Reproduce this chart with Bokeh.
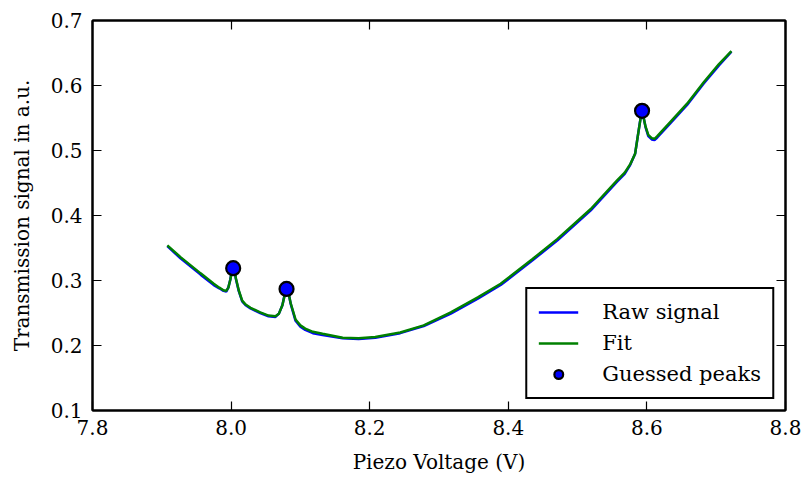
from bokeh.plotting import figure
from bokeh.models import LinearAxis, FixedTicker, Legend, LegendItem, Range1d
from bokeh.embed import file_html
from bokeh.resources import INLINE

# ---- data ----
voltage = [7.908, 7.927, 7.956, 7.975, 7.983, 7.989, 7.993, 7.996, 7.999, 8.001,
           8.003, 8.005, 8.007, 8.011, 8.016, 8.021, 8.028, 8.042, 8.054, 8.064,
           8.069, 8.074, 8.077, 8.079, 8.081, 8.083, 8.086, 8.093, 8.100, 8.107,
           8.118, 8.132, 8.161, 8.184, 8.208, 8.244, 8.278, 8.317, 8.356, 8.389,
           8.435, 8.471, 8.519, 8.557, 8.568, 8.576, 8.583, 8.588, 8.591, 8.593,
           8.595, 8.598, 8.602, 8.607, 8.611, 8.615, 8.634, 8.658, 8.682, 8.704,
           8.722]
raw_signal = [0.353, 0.334, 0.309, 0.293, 0.288, 0.284, 0.283, 0.289, 0.302, 0.315,
              0.320, 0.314, 0.302, 0.284, 0.268, 0.262, 0.257, 0.250, 0.245, 0.244,
              0.249, 0.262, 0.277, 0.286, 0.288, 0.280, 0.264, 0.238, 0.229, 0.224,
              0.219, 0.216, 0.211, 0.210, 0.212, 0.219, 0.230, 0.249, 0.272, 0.293,
              0.331, 0.362, 0.408, 0.452, 0.464, 0.478, 0.495, 0.530, 0.551, 0.561,
              0.552, 0.536, 0.522, 0.517, 0.516, 0.520, 0.542, 0.570, 0.603, 0.631,
              0.652]
fit_signal = [0.354, 0.336, 0.311, 0.295, 0.289, 0.285, 0.284, 0.289, 0.302, 0.314,
              0.319, 0.314, 0.303, 0.285, 0.269, 0.263, 0.258, 0.251, 0.246, 0.245,
              0.249, 0.262, 0.276, 0.285, 0.287, 0.280, 0.265, 0.240, 0.231, 0.226,
              0.221, 0.218, 0.212, 0.211, 0.213, 0.220, 0.231, 0.251, 0.274, 0.295,
              0.333, 0.364, 0.410, 0.454, 0.466, 0.479, 0.495, 0.530, 0.550, 0.560,
              0.552, 0.537, 0.524, 0.519, 0.518, 0.522, 0.544, 0.572, 0.605, 0.633,
              0.653]
peak_x = [8.003, 8.080, 8.593]
peak_y = [0.319, 0.287, 0.561]

x_ticks = [7.8, 8.0, 8.2, 8.4, 8.6, 8.8]
x_tick_labels = ["7.8", "8.0", "8.2", "8.4", "8.6", "8.8"]
y_ticks = [0.1, 0.2, 0.3, 0.4, 0.5, 0.6, 0.7]
y_tick_labels = ["0.1", "0.2", "0.3", "0.4", "0.5", "0.6", "0.7"]

FONT = "DejaVu Serif"

p = figure(width=805, height=481, output_backend="svg", toolbar_location=None,
           x_range=Range1d(7.8, 8.8), y_range=Range1d(0.1, 0.7),
           min_border_left=92, min_border_right=20, min_border_top=20,
           min_border_bottom=71)
p.grid.visible = False
p.background_fill_color = "white"
p.border_fill_color = "white"
p.outline_line_color = "black"
p.outline_line_alpha = 1
p.outline_line_width = 2

r_raw = p.line(voltage, raw_signal, line_color="#0000ff", line_width=2.5)
r_fit = p.line(voltage, fit_signal, line_color="#008000", line_width=2.5)
r_pk = p.scatter(peak_x, peak_y, size=14, fill_color="#0000ff",
                 line_color="black", line_width=2.2)

def style_axis(ax, ticks, labels, show_labels):
    ax.ticker = FixedTicker(ticks=ticks)
    ax.minor_tick_line_color = None
    ax.major_tick_in = 9
    ax.major_tick_out = 0
    ax.major_tick_line_width = 1.2
    ax.major_tick_line_color = "black"
    ax.axis_line_width = 2
    ax.axis_line_color = "black"
    ax.major_label_text_font = FONT
    if show_labels:
        ax.major_label_overrides = {t: l for t, l in zip(ticks, labels)}
        ax.major_label_text_font_size = "20px"
        ax.major_label_text_color = "black"
    else:
        ax.major_label_text_font_size = "1px"
        ax.major_label_text_color = None
        ax.major_label_standoff = 0

xa = p.xaxis[0]
ya = p.yaxis[0]
style_axis(xa, x_ticks, x_tick_labels, True)
style_axis(ya, y_ticks, y_tick_labels, True)
xa.major_label_standoff = 9
ya.major_label_standoff = 10
xa.axis_label = "Piezo Voltage (V)"
ya.axis_label = "Transmission signal in a.u."
for ax in (xa, ya):
    ax.axis_label_text_font = FONT
    ax.axis_label_text_font_size = "20px"
    ax.axis_label_text_font_style = "normal"
    ax.axis_label_text_color = "black"
xa.axis_label_standoff = 12
ya.axis_label_standoff = 14

top = LinearAxis()
right = LinearAxis()
style_axis(top, x_ticks, x_tick_labels, False)
style_axis(right, y_ticks, y_tick_labels, False)
p.add_layout(top, "above")
p.add_layout(right, "right")

legend = Legend(items=[LegendItem(label="Raw signal", renderers=[r_raw]),
                       LegendItem(label="Fit", renderers=[r_fit]),
                       LegendItem(label="Guessed peaks", renderers=[r_pk])],
                location="bottom_right")
legend.label_text_font = FONT
legend.label_text_font_size = "21px"
legend.label_text_color = "black"
legend.border_line_color = "black"
legend.border_line_alpha = 1
legend.border_line_width = 2
legend.background_fill_color = "white"
legend.background_fill_alpha = 1
legend.padding = 11
legend.margin = 11
legend.spacing = 7
legend.glyph_width = 40
legend.glyph_height = 22
legend.label_height = 22
legend.label_standoff = 24
p.add_layout(legend, "center")

open("out.html", "w").write(file_html(p, INLINE))
